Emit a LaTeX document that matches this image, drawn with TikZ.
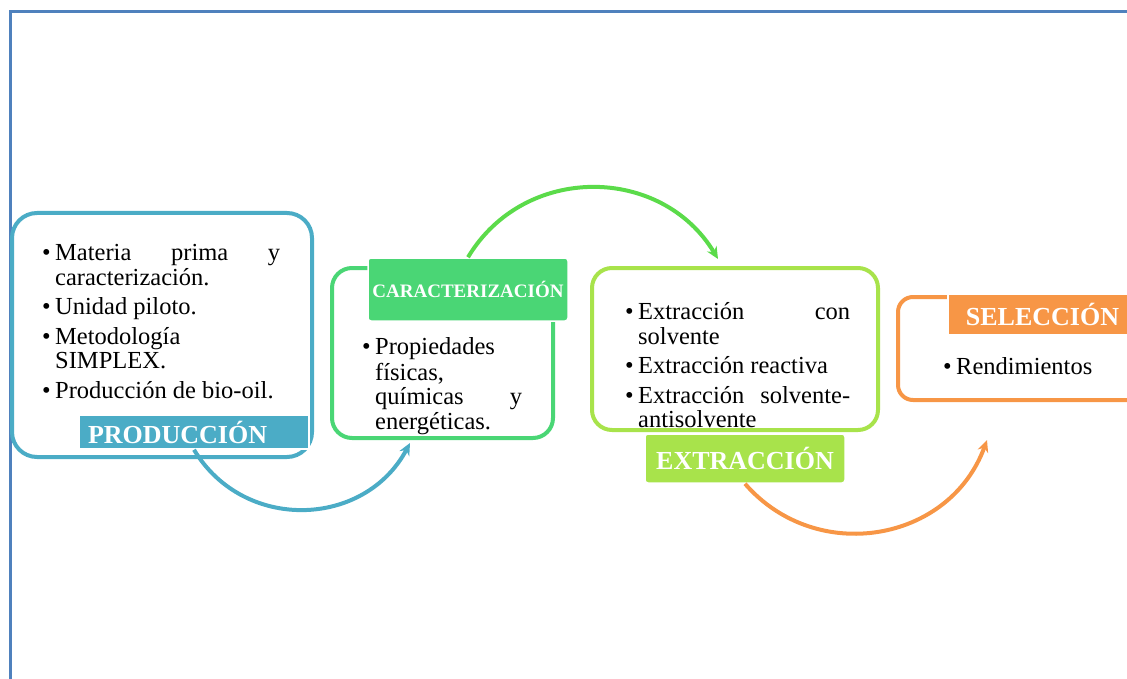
\documentclass[tikz,border=0pt]{standalone}
\usepackage{fontspec}
\setmainfont{Liberation Serif}
\usetikzlibrary{arrows.meta}
\definecolor{frameblue}{HTML}{4F81BD}
\definecolor{prodblue}{HTML}{4BACC6}
\definecolor{cargreen}{HTML}{4AD675}
\definecolor{arcgreen}{HTML}{5BDB4A}
\definecolor{extgreen}{HTML}{A8E34B}
\definecolor{selorange}{HTML}{F79646}
\hyphenpenalty=10000
\newcommand\stageitem{\par\parskip=5pt\hangindent=13pt\hangafter=1\noindent\strut\makebox[13pt][l]{\textbullet}\ignorespaces}
\begin{document}
\begin{tikzpicture}[x=1pt,y=1pt,
  stagebox/.style={draw=#1, line width=4pt, fill=white, rounded corners=22pt, inner sep=0pt},
  stagelabel/.style={fill=#1, draw=white, line width=1.5pt, text=white, inner sep=0pt, font=\bfseries\fontsize{26}{26}\selectfont},
  stagetext/.style={anchor=north west, inner sep=0pt, align=justify, text width=#1, font=\fontsize{24.5}{24.5}\selectfont},
  flow/.style={draw=#1, line width=4pt, -{Stealth[length=12pt,width=11pt]}}]
\useasboundingbox (0,0) rectangle (1127,-679);
\clip (0,0) rectangle (1127,-679);
\draw[frameblue, line width=3pt] (10,-720) -- (10,-12) -- (1160,-12);

\node[stagebox=prodblue, rounded corners=25pt, minimum width=300, minimum height=244] (prodbox) at (162,-335) {};
\node[stagetext=238pt] (prodtxt) at (42,-230.85) {\stageitem Materia prima y caracterización.\stageitem Unidad piloto.\stageitem Metodología SIMPLEX.\stageitem Producción de bio-oil.\par};
\node[stagelabel=prodblue, inner xsep=9pt, text width=212pt, align=left, minimum height=34] (prodlbl) at (194,-432) {PRODUCCIÓN};

\node[stagebox=cargreen, rounded corners=20pt, minimum width=221, minimum height=170] (carbox) at (442.5,-353) {};
\node[stagelabel=cargreen, rounded corners=3pt, minimum width=200, minimum height=63, font=\bfseries\fontsize{19}{19}\selectfont] (carlbl) at (468,-289.5) {CARACTERIZACIÓN};
\node[stagetext=160pt] (cartxt) at (362,-324.85) {\stageitem Propiedades físicas, químicas y energéticas.\par};

\node[stagebox=extgreen, rounded corners=20pt, minimum width=286, minimum height=162] (extbox) at (735,-349) {};
\node[stagetext=225pt] (exttxt) at (625,-289.85) {\stageitem Extracción con solvente\stageitem Extracción reactiva\stageitem Extracción solvente-antisolvente\par};
\node[stagelabel=extgreen, rounded corners=3pt, minimum width=200, minimum height=49] (extlbl) at (745,-458.5) {EXTRACCIÓN};

\node[stagebox=selorange, rounded corners=15pt, minimum width=252, minimum height=103] (selbox) at (1024,-348.5) {};
\node[stagelabel=selorange, minimum width=189, minimum height=41] (sellbl) at (1042.5,-314.5) {SELECCIÓN};
\node[stagetext=150pt] (seltxt) at (943,-344.85) {\stageitem Rendimientos\par};

\coordinate (carin) at (410,-443);
\coordinate (extin) at (718,-259);
\coordinate (selin) at (987,-440);
\draw[flow=prodblue] (prodlbl.south) to[out=-59, in=-118, looseness=1.14] (carin);
\draw[flow=arcgreen] (carlbl.north) to[out=59, in=121, looseness=1.12] (extin);
\draw[flow=selorange] (extlbl.south) to[out=-49, in=-110, looseness=1.13] (selin);
\end{tikzpicture}
\end{document}
